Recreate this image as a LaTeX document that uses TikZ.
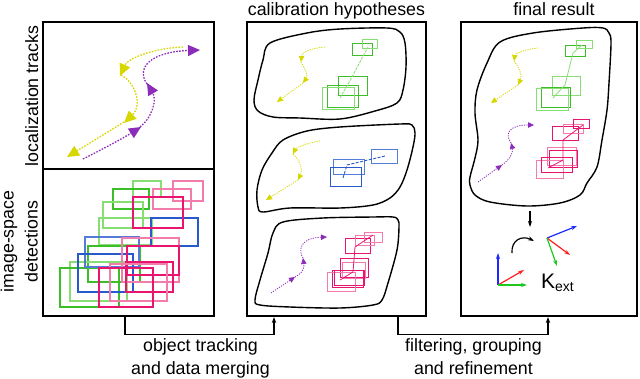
\documentclass[tikz,border=0pt]{standalone}
\usepackage{fontspec}
\setmainfont{Liberation Sans}
\usetikzlibrary{arrows.meta}
\definecolor{gD}{RGB}{60,190,40}
\definecolor{gL}{RGB}{135,222,115}
\definecolor{bl}{RGB}{40,90,205}
\definecolor{pD}{RGB}{232,20,112}
\definecolor{pL}{RGB}{242,125,172}
\definecolor{yel}{RGB}{215,215,0}
\definecolor{pur}{RGB}{140,45,185}
\definecolor{fR}{RGB}{255,30,30}
\definecolor{fG}{RGB}{30,200,30}
\definecolor{fB}{RGB}{30,40,255}
\tikzset{
  panel/.style={draw, line width=2.2pt, minimum height=294, inner sep=0pt},
  blob/.style={draw, line width=1.4pt, line join=round},
  conn/.style={line width=1.8pt, -{Stealth[length=6pt,width=4.5pt]}},
  lbl/.style={font=\fontsize{17.8}{20}\selectfont, anchor=base, inner sep=0pt},
  bigY/.style={yel, line width=1.3pt, dash pattern=on 1.6pt off 1.4pt, -{Triangle[length=12pt,width=11pt]}},
  bigP/.style={pur, line width=1.3pt, dash pattern=on 1.6pt off 1.4pt, -{Triangle[length=12pt,width=11pt]}},
  smY/.style={yel, line width=0.8pt, dash pattern=on 1.2pt off 1.2pt, -{Triangle[length=6pt,width=5.5pt]}},
  smP/.style={pur, line width=0.8pt, dash pattern=on 1.2pt off 1.2pt, -{Triangle[length=6pt,width=5.5pt]}},
  rl/.style={line width=1.3pt},
  rs/.style={line width=0.9pt},
  fr/.style={line width=1.2pt, -{Stealth[length=6pt,width=4pt]}},
}
\begin{document}
\begin{tikzpicture}[x=1pt,y=-1pt]
\useasboundingbox (0,0) rectangle (640,378);
% panels
\node[panel, minimum width=171] (left) at (128.5,169) {};
\node[panel, minimum width=179] (mid) at (336.5,169) {};
\node[panel, minimum width=176] (right) at (549,169) {};
\draw[line width=2.2pt] (left.west) -- (left.east);
% titles
\node[lbl] (t1) at (336.5,15) {calibration hypotheses};
\node[lbl] (t2) at (554,15) {final result};
\node[lbl, rotate=90] (t3) at (38,96) {localization tracks};
\node[lbl, rotate=90] (t4) at (13.5,241.5) {image-space};
\node[lbl, rotate=90] (t5) at (37.5,241.5) {detections};
% connectors
\coordinate (c1) at (125,334.5);
\coordinate (c2) at (274,334.5);
\coordinate (c3) at (398,334.5);
\coordinate (c4) at (548,334.5);
\draw[conn] (c1 |- left.south) -- (c1) -- (c2) -- (c2 |- mid.south);
\draw[conn] (c3 |- mid.south) -- (c3) -- (c4) -- (c4 |- right.south);
\node[lbl] (l1) at (200.5,351.5) {object tracking};
\node[lbl] (l2) at (200.5,374.5) {and data merging};
\node[lbl] (l3) at (473.5,351.5) {filtering, grouping};
\node[lbl] (l4) at (473.5,374.5) {and refinement};
% left top tracks
\draw[bigY] (183,47) .. controls (155,48) and (128,58) .. (120,76);
\draw[bigY] (121,75) .. controls (135,82) and (143,105) .. (124,123);
\draw[bigY] (124,122) -- (67,157);
\draw[bigP] (83,159) .. controls (105,148) and (125,137) .. (141,127);
\draw[bigP] (140,127) .. controls (152,118) and (157,100) .. (147,83);
\draw[bigP] (147,84) .. controls (136,68) and (150,52) .. (200,50);
% left bottom detections
\draw[rl,gL] (133,181) rectangle (161,197);
\draw[rl,gD] (113,189) rectangle (149,209);
\draw[rl,gL] (103,202) rectangle (143,228);
\draw[rl,gL] (99,218) rectangle (152,245);
\draw[rl,gD] (88,246) rectangle (140,282);
\draw[rl,gL] (70,262) rectangle (127,301);
\draw[rl,gD] (60,268) rectangle (119,307);
\draw[rl,bl!80] (85,237) rectangle (139,267);
\draw[rl,bl] (78,254) rectangle (133,292);
\draw[rl,bl] (151,218) rectangle (198,246);
\draw[rl,pL] (173,181) rectangle (203,201);
\draw[rl,pL] (153,189) rectangle (191,209);
\draw[rl,pD] (133,197) rectangle (183,228);
\draw[rl,pL] (122,238) rectangle (179,282);
\draw[rl,pD] (127,246) rectangle (179,275);
\draw[rl,pD] (126,262) rectangle (173,292);
\draw[rl,pL] (110,264) rectangle (167,301);
\draw[rl,pD] (99,268) rectangle (153,307);
% middle blobs
\draw[blob] plot[smooth cycle, tension=0.55] coordinates {(270,43) (307,33) (340,29) (387,28) (400,32) (405,43) (406,67) (403,90) (397,103) (375,111) (340,119) (300,118) (273,117) (258,111) (254,100) (258,80) (263,60)};
\draw[blob] plot[smooth cycle, tension=0.55] coordinates {(283,140) (307,131) (340,127) (400,124) (412,125) (415,133) (413,147) (407,170) (400,187) (390,198) (373,205) (340,208) (290,208) (263,212) (258,207) (257,190) (262,170) (272,153)};
\draw[blob] plot[smooth cycle, tension=0.55] coordinates {(283,222) (323,218) (373,217) (393,217) (398,220) (399,227) (397,250) (388,283) (382,300) (373,305) (340,308) (290,307) (260,305) (255,300) (260,280) (268,253) (273,233)};
% blob 1 content
\draw[smY] (325,47) .. controls (312,48) and (302,52) .. (301,62);
\draw[smY] (301,62) .. controls (306,70) and (308,76) .. (303,83);
\draw[smY] (303,83) -- (277,102);
\draw[rs,gD] (352,43) rectangle (372,55);
\draw[rs,gL] (362,39) rectangle (377,48);
\draw[rs,gD] (338,76) rectangle (367,95);
\draw[rs,gD] (327,85) rectangle (358,107);
\draw[rs,gL] (322,87) rectangle (354,109);
\draw[gL, line width=0.8pt, dash pattern=on 3pt off 1pt] (340,98) -- (352,77) -- (368,47);
% blob 2 content
\draw[smY] (320,141) .. controls (306,143) and (296,148) .. (293,154);
\draw[smY] (293,154) .. controls (302,162) and (302,172) .. (298,180);
\draw[smY] (298,180) -- (266,200);
\draw[rs,bl!80] (333,159) rectangle (364,174);
\draw[rs,bl] (330,167) rectangle (361,186);
\draw[rs,bl!80] (371,149) rectangle (397,163);
\draw[bl, line width=0.9pt, dash pattern=on 3pt off 1.5pt] (343,178) -- (347,165) -- (385,156);
% blob 3 content
\draw[smP] (271,293) -- (295,277);
\draw[smP] (295,277) .. controls (305,272) and (304,265) .. (303,258);
\draw[smP] (303,258) .. controls (298,250) and (300,238) .. (327,237);
\draw[rs,pD] (345,238) rectangle (370,253);
\draw[rs,pL] (355,235) rectangle (374,245);
\draw[rs,pL] (364,232) rectangle (382,242);
\draw[rs,pD] (340,258) rectangle (368,277);
\draw[rs,pL] (342,262) rectangle (365,278);
\draw[rs,pD] (332,270) rectangle (363,287);
\draw[rs,pL] (327,272) rectangle (355,291);
\draw[rs,pD] (334,270) rectangle (364,285);
\draw[pD, line width=0.8pt] (340,280) -- (353,272) -- (355,247) -- (373,235);
% right blob
\draw[blob] plot[smooth cycle, tension=0.55] coordinates {(500,42) (533,33) (583,28) (603,28) (609,33) (611,43) (609,83) (607,110) (602,140) (597,167) (587,183) (580,195) (560,203) (527,206) (490,202) (475,195) (470,185) (470,177) (475,158) (478,140) (475,113) (477,90) (487,63)};
\draw[smY] (538,48) .. controls (525,49) and (515,54) .. (514,61);
\draw[smY] (514,61) .. controls (520,68) and (522,76) .. (518,85);
\draw[smY] (518,85) -- (491,103);
\draw[rs,gD] (565,45) rectangle (585,56);
\draw[rs,gL] (576,40) rectangle (592,48);
\draw[rs,gL] (552,76) rectangle (580,95);
\draw[rs,gD] (541,87) rectangle (570,107);
\draw[rs,gL] (536,88) rectangle (568,110);
\draw[gL, line width=0.8pt] (553,98) -- (565,85) -- (573,53) -- (582,45);
\draw[smP] (478,182) -- (502,165);
\draw[smP] (502,165) .. controls (512,158) and (513,150) .. (511,143);
\draw[smP] (511,143) .. controls (504,133) and (510,125) .. (534,125);
\draw[rs,pD] (552,126) rectangle (578,140);
\draw[rs,pL] (563,124) rectangle (583,133);
\draw[rs,pD] (573,119) rectangle (589,128);
\draw[rs,pL] (547,147) rectangle (576,165);
\draw[rs,pD] (549,150) rectangle (577,167);
\draw[rs,pL] (536,160) rectangle (563,178);
\draw[rs,pD] (541,157) rectangle (572,172);
\draw[pD, line width=0.8pt] (548,168) -- (563,160) -- (563,140) -- (583,125);
% result
\coordinate (d1) at (530,211);
\coordinate (d2) at (530,227);
\draw[fr, black] (d1) -- (d2);
\coordinate (r1) at (512,253);
\coordinate (r2) at (534,241);
\draw[fr, black] (r1) .. controls (511,240) and (522,235) .. (r2);
\coordinate (o1) at (498,285);
\draw[fr, fB] (o1) -- (498,253);
\draw[fr, fR] (o1) -- (524,270);
\draw[fr, fG] (o1) -- (527,285);
\coordinate (o2) at (547,238);
\draw[fr, fB] (o2) -- (577,226);
\draw[fr, fR] (o2) -- (570,255);
\draw[fr, fG] (o2) -- (557,266);
\node[anchor=base west, inner sep=0pt] (k) at (541,288) {\fontsize{21}{21}\selectfont K\raisebox{-3pt}{\fontsize{14}{14}\selectfont ext}};
\end{tikzpicture}
\end{document}
